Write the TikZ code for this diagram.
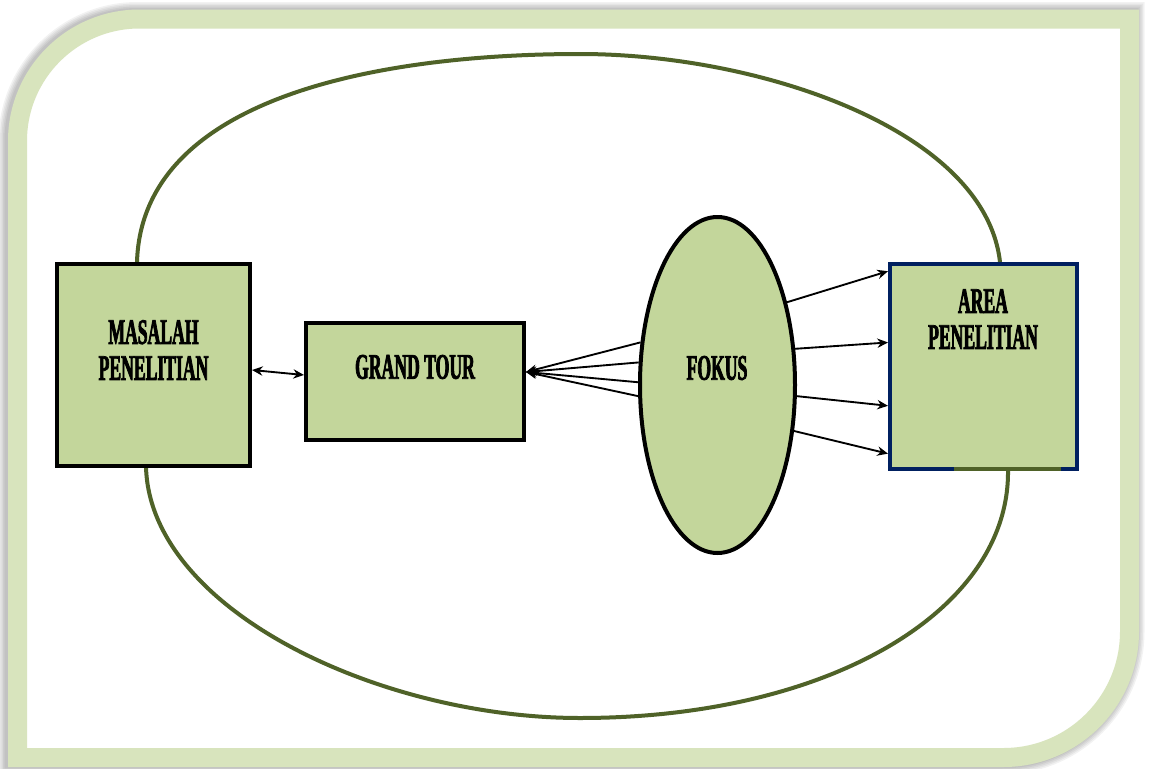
\documentclass[tikz,border=0pt]{standalone}
\usepackage{fontspec}
\usetikzlibrary{shapes.geometric,arrows.meta,calc}
\newfontfamily\labelfont[FakeStretch=0.49,FakeBold=2]{Liberation Serif}
\definecolor{boxgreen}{RGB}{195,214,155}
\definecolor{framegreen}{RGB}{216,228,189}
\definecolor{olive}{RGB}{79,98,40}
\definecolor{navy}{RGB}{0,32,96}
\begin{document}
\begin{tikzpicture}[x=0.75pt,y=-0.75pt,
  greenbox/.style={draw=black, line width=3pt, fill=boxgreen, inner sep=0pt},
  lbl/.style={font=\labelfont\bfseries\fontsize{27}{27}\selectfont, align=center, inner sep=0pt},
  link/.style={line width=1.4pt, -{Stealth[length=8pt,width=7pt]}},
  biglink/.style={line width=1.4pt, {Stealth[length=8pt,width=7pt]}-{Stealth[length=8pt,width=7pt]}},
  outline/.style={draw=olive, line width=3pt}]
\useasboundingbox (0,0) rectangle (1150,768);
\fill[white] (0,0) rectangle (1150,768);

% soft glow around the frame
\foreach \w in {34,31,28,25,22} {
  \draw[line width=\w*0.75pt, black, opacity=0.05, xshift=-1.5pt]
    (17.5,141) .. controls (17.5,73.6) and (72.1,19) .. (139.5,19)
    -- (1129.5,19) -- (1129.5,631.5)
    .. controls (1129.5,701.1) and (1073.1,757.5) .. (1003.5,757.5)
    -- (17.5,757.5) -- cycle;
}
% frame band
\draw[line width=14.25pt, draw=framegreen, fill=white]
  (17.5,141) .. controls (17.5,73.6) and (72.1,19) .. (139.5,19)
  -- (1129.5,19) -- (1129.5,631.5)
  .. controls (1129.5,701.1) and (1073.1,757.5) .. (1003.5,757.5)
  -- (17.5,757.5) -- cycle;

% large surrounding loop
\draw[outline]
  (137,262) .. controls (142,95) and (385,54) .. (580,54)
  .. controls (760,54) and (985,130) .. (1000,262)
  -- (1008,470)
  .. controls (1010,610) and (830,718) .. (580,718)
  .. controls (380,718) and (150,610) .. (146,467)
  -- cycle;

% boxes
\node[greenbox, minimum width=144.75pt, minimum height=151.5pt] (masalah) at (153.5,365) {};
\node[lbl] (masalahtext) at (153.5,350) {MASALAH\\PENELITIAN};

\node[greenbox, minimum width=163.5pt, minimum height=87.75pt] (gt) at (415,381.5) {};
\node[lbl] (gttext) at (415,367) {GRAND TOUR};

\node[greenbox, ellipse, minimum width=116.25pt, minimum height=252pt] (fokus) at (717.5,385) {};
\node[lbl] (fokustext) at (717,368) {FOKUS};

\node[greenbox, draw=navy, minimum width=140.25pt, minimum height=153.75pt] (area) at (983.5,366.5) {};
\node[lbl] (areatext) at (983,319) {AREA\\PENELITIAN};
\draw[olive, line width=3pt] ($(area.south west)+(66,-2)$) -- ($(area.south west)+(173,-2)$);

% connectors
\coordinate (mright) at ($(masalah.east)+(0,5)$);
\coordinate (gleft) at ($(gt.west)+(0,-6.5)$);
\draw[biglink] (mright) -- (gleft);

\coordinate (gright) at ($(gt.east)+(0,-9.5)$);
\foreach \a in {151,164,178,188}
  \draw[link] (fokus.\a) -- (gright);

\foreach \a/\f in {50/0.044, 25/0.385, -8/0.688, -31/0.917}
  \draw[link] (fokus.\a) -- ($(area.north west)!\f!(area.south west)$);
\end{tikzpicture}
\end{document}
